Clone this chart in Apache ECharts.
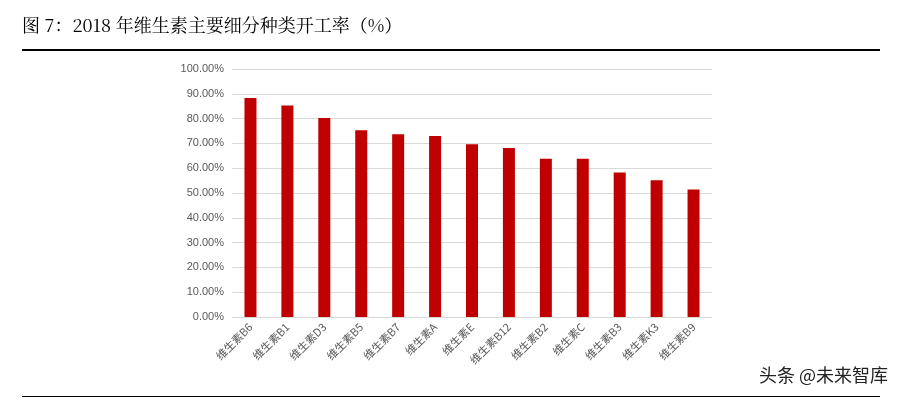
<!DOCTYPE html>
<html><head><meta charset="utf-8">
<script src="https://cdn.jsdelivr.net/npm/echarts@6/dist/echarts.min.js"></script>
<style>html,body{margin:0;padding:0;background:#fff}#c{width:900px;height:401px}</style>
</head><body><div id="c"></div>
<script>
// 类别与开工率
var categories = ['维生素B6','维生素B1','维生素D3','维生素B5','维生素B7','维生素A','维生素E','维生素B12','维生素B2','维生素C','维生素B3','维生素K3','维生素B9'];
var rates = [0.883, 0.853, 0.802, 0.753, 0.737, 0.73, 0.697, 0.681, 0.638, 0.638, 0.583, 0.551, 0.514];

var chart = echarts.init(document.getElementById('c'));
chart.setOption({
    animation: false,
    graphic: [
        {type: 'text', left: 22, top: 16, style: {text: '图 7：2018 年维生素主要细分种类开工率（%）', font: '18px "Noto Serif CJK SC", "Noto Sans CJK SC", serif', fill: '#000'}},
        {type: 'rect', shape: {x: 22, y: 49, width: 858, height: 2}, style: {fill: '#000'}},
        {type: 'rect', shape: {x: 22, y: 396, width: 858, height: 1}, style: {fill: '#000'}},
        {type: 'text', right: 12, top: 366, style: {text: '头条 @未来智库', font: '18px "Noto Sans CJK SC"', fill: '#222'}}
    ],
    grid: {left: 232, right: 188, top: 69, bottom: 84},
    xAxis: {
        type: 'category',
        data: categories,
        axisTick: {show: false},
        axisLine: {lineStyle: {color: '#d9d9d9'}},
        axisLabel: {rotate: 45, color: '#595959', fontSize: 11, fontFamily: 'Noto Sans CJK SC', interval: 0, margin: 8}
    },
    yAxis: {
        type: 'value', min: 0, max: 1, interval: 0.1,
        axisLine: {show: false}, axisTick: {show: false},
        splitLine: {lineStyle: {color: '#d9d9d9'}},
        axisLabel: {color: '#595959', fontSize: 11, formatter: function (v) { return (v * 100).toFixed(2) + '%'; }}
    },
    series: [{
        type: 'bar',
        data: rates,
        barWidth: 12,
        itemStyle: {color: '#c00000'}
    }]
});
</script></body></html>
